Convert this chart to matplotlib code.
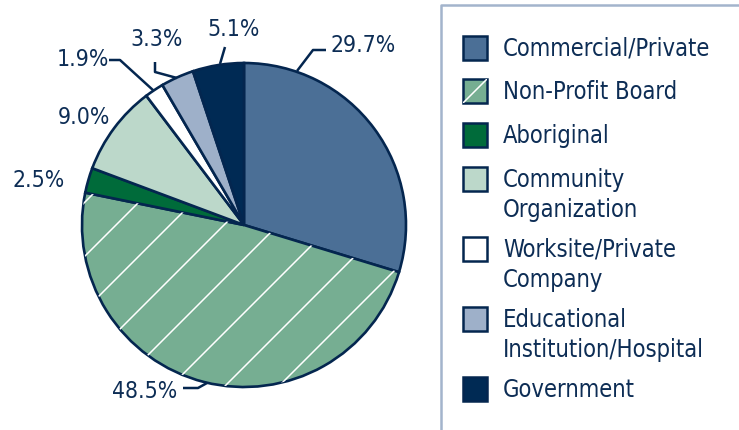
import numpy as np
import matplotlib
matplotlib.use("Agg")
import matplotlib.pyplot as plt
from matplotlib.patches import Rectangle

# data
categories = ["Commercial/Private", "Non-Profit Board", "Aboriginal",
              "Community\nOrganization", "Worksite/Private\nCompany",
              "Educational\nInstitution/Hospital", "Government"]
shares = [29.7, 48.5, 2.5, 9.0, 1.9, 3.3, 5.1]
pct_labels = ["29.7%", "48.5%", "2.5%", "9.0%", "1.9%", "3.3%", "5.1%"]

colors = ["#4b6f96", "#76ae92", "#006b3a", "#bcd8ca", "#ffffff", "#9eb0c9", "#002a54"]
edge = "#04264f"
txt = "#0d2d55"

plt.rcParams['font.family'] = ['DejaVu Sans']
plt.rcParams['font.stretch'] = 'condensed'

W, H = 739, 431
fig = plt.figure(figsize=(W / 100, H / 100), dpi=100)
ax = fig.add_axes([0, 0, 1, 1])

cx, cy, r = 244, 226, 162
# y axis is flipped below, so counterclock=True turns visually clockwise
wedges, _ = ax.pie(shares, colors=colors, startangle=-90, counterclock=True,
                   center=(cx, cy), radius=r,
                   wedgeprops=dict(edgecolor=edge, linewidth=1.9))
ax.set_xlim(0, W)
ax.set_ylim(H, 0)
ax.set_aspect('auto')
ax.axis('off')

# white diagonal hatching on the non-profit slice
for s in np.arange(288, 720, 54):
    ln, = ax.plot([s - 450, s + 50], [450, -50], color="white", lw=1.1, zorder=3)
    ln.set_clip_path(wedges[1])

# percentage labels (x, y) and leader lines
label_pos = [(331, 46), (112, 392), (12, 181), (58, 118), (57, 60), (130, 40), (207, 29)]
leaders = [
    [(297, 72), (313, 51), (326, 51)],
    [(183, 389), (198, 389), (207, 384)],
    None,
    None,
    [(109, 61), (120, 61), (154, 92)],
    [(155, 63), (155, 73), (177, 79)],
    [(225, 48), (220, 65)],
]
for lab, (x, y), pts in zip(pct_labels, label_pos, leaders):
    ax.text(x, y, lab, fontsize=16.5, color=txt, ha='left', va='center')
    if pts:
        xs, ys = zip(*pts)
        ax.plot(xs, ys, color=edge, lw=1.8, zorder=4, solid_capstyle='butt')

# legend box (only left and top edges visible)
ax.plot([441, 441, W + 5], [H + 5, 6, 6], color="#a3b4cc", lw=1.8, clip_on=False)

leg_y = [49, 92, 136, 195, 265, 335, 390]
for i, (cat, col, ly) in enumerate(zip(categories, colors, leg_y)):
    nlines = cat.count("\n") + 1
    sq_y = ly - 15 * (nlines - 1)
    rect = Rectangle((463, sq_y - 12), 24, 24, facecolor=col, edgecolor=edge, lw=1.8)
    ax.add_patch(rect)
    if i == 1:
        d, = ax.plot([463, 487], [sq_y + 12, sq_y - 12], color="white", lw=1.1)
        d.set_clip_path(rect)
    ax.text(503, ly, cat, fontsize=17, color=txt, ha='left', va='center',
            linespacing=1.35)

fig.savefig("out.png", dpi=100)
